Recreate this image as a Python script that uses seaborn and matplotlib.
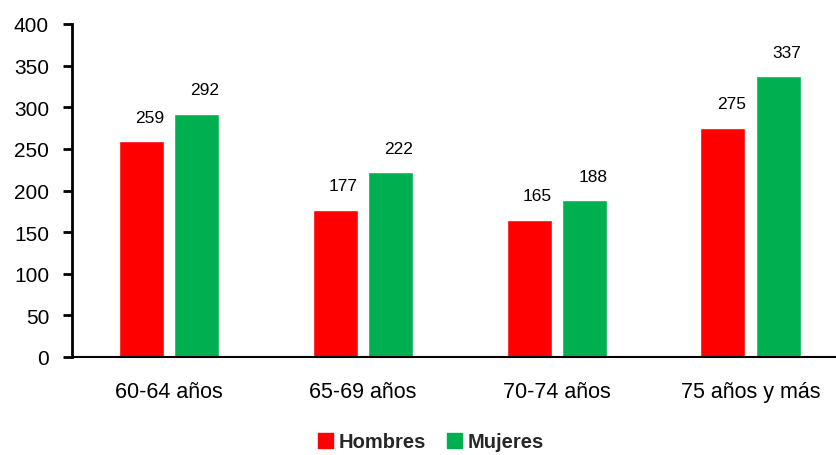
import matplotlib
matplotlib.use("Agg")
import matplotlib.pyplot as plt
import seaborn as sns
import pandas as pd
from matplotlib.patches import Patch

categories = ["60-64 años", "65-69 años", "70-74 años", "75 años y más"]
hombres = [259, 177, 165, 275]
mujeres = [292, 222, 188, 337]
series_names = ["Hombres", "Mujeres"]
colors = ["#FF0000", "#00B050"]

sns.set_theme(style="white")
plt.rcParams["font.family"] = ["Liberation Sans", "DejaVu Sans"]

df = pd.DataFrame({
    "cat": categories * 2,
    "val": hombres + mujeres,
    "serie": [series_names[0]] * 4 + [series_names[1]] * 4,
})

fig = plt.figure(figsize=(8.36, 4.56), dpi=100)
ax = fig.add_axes([72 / 836, (456 - 358) / 456, 1 - 72 / 836, (358 - 25) / 456])

sns.barplot(data=df, x="cat", y="val", hue="serie", palette=colors,
            width=0.572, gap=0.19, ax=ax, legend=False, saturation=1)

for cont in ax.containers:
    for bar in cont:
        h = bar.get_height()
        ax.annotate(f"{h:.0f}", (bar.get_x() + bar.get_width() / 2, h),
                    xytext=(6, 12), textcoords="offset points",
                    ha="center", va="bottom", fontsize=12.5, color="black")

ax.set_ylim(0, 400)
ax.set_yticks(range(0, 401, 50))
ax.set_xlim(-0.5, 3.44)
ax.set_xlabel("")
ax.set_ylabel("")
ax.tick_params(axis="y", which="both", left=True, length=6.5, width=2,
               labelsize=15, pad=10, colors="black", labelcolor="black")
ax.tick_params(axis="x", bottom=False, labelsize=15.5, pad=11, labelcolor="black")
for s in ["top", "right"]:
    ax.spines[s].set_visible(False)
ax.spines["left"].set_linewidth(2)
ax.spines["left"].set_color("black")
ax.spines["bottom"].set_linewidth(1.5)
ax.spines["bottom"].set_color("black")
ax.grid(False)

handles = [Patch(color=c, label=n) for c, n in zip(colors, series_names)]
fig.legend(handles=handles, loc="center", bbox_to_anchor=(431 / 836, 1 - 443 / 456),
           ncol=2, frameon=False, handlelength=0.75, handleheight=0.75,
           handletextpad=0.3, columnspacing=1.0,
           prop={"weight": "bold", "size": 14.5})

fig.savefig("out.png", dpi=100)
